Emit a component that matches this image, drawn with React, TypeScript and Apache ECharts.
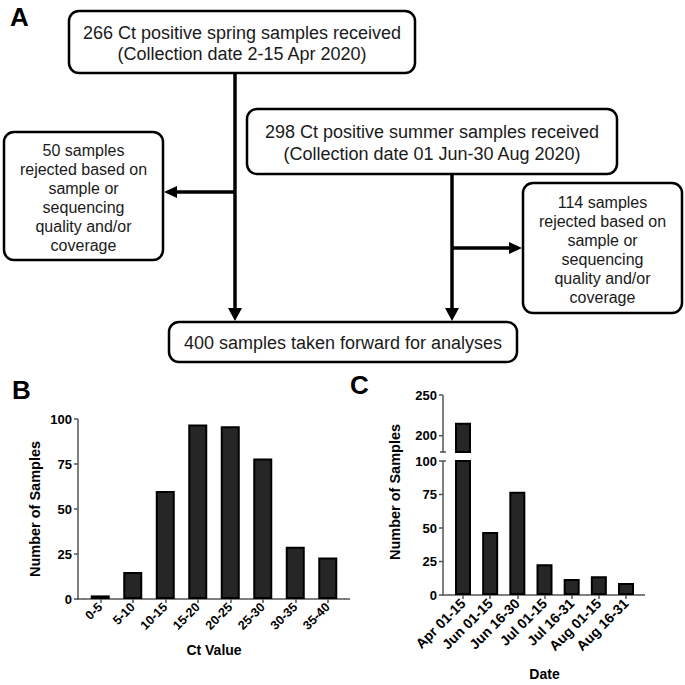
import React, { useEffect, useRef } from "react";
import * as echarts from "echarts";

// ---- Panel B data ----
const ctCategories = ["0-5", "5-10", "10-15", "15-20", "20-25", "25-30", "30-35", "35-40"];
const ctCounts = [2, 15, 60, 97, 96, 78, 29, 23];
const bTicks = [0, 25, 50, 75, 100];

// ---- Panel C data ----
const dateCategories = ["Apr 01-15", "Jun 01-15", "Jun 16-30", "Jul 01-15", "Jul 16-31", "Aug 01-15", "Aug 16-31"];
const dateCounts = [216, 47, 77, 23, 12, 14, 9];
const cLowerTicks = [0, 25, 50, 75, 100];
const cUpperTicks = [200, 250];
const cUpperBreak = 180;

// ---- Panel A texts ----
const springText = ["266 Ct positive spring samples received", "(Collection date 2-15 Apr 2020)"];
const summerText = ["298 Ct positive summer samples received", "(Collection date 01 Jun-30 Aug 2020)"];
const springRejectText = ["50 samples", "rejected based on", "sample or", "sequencing", "quality and/or", "coverage"];
const summerRejectText = ["114 samples", "rejected based on", "sample or", "sequencing", "quality and/or", "coverage"];
const finalText = ["400 samples taken forward for analyses"];

const FONT = "'Liberation Sans', Arial, Helvetica, sans-serif";
const AXIS_COLOR = "#555";
const AXIS_W = 1.5;

function box(x: number, y: number, w: number, h: number) {
  return {
    type: "rect",
    shape: { x, y, width: w, height: h, r: 10 },
    style: { fill: "#fff", stroke: "#000", lineWidth: 2.5 },
  };
}
function boxText(lines: string[], cx: number, cy: number, lh: number, size: number) {
  return {
    type: "text",
    x: cx,
    y: cy,
    style: {
      text: lines.join("\n"),
      font: `${size}px ${FONT}`,
      fill: "#1a1a1a",
      align: "center",
      verticalAlign: "middle",
      lineHeight: lh,
    },
  };
}
function line(x1: number, y1: number, x2: number, y2: number, w = 3.5, c = "#000") {
  return { type: "line", shape: { x1, y1, x2, y2 }, style: { stroke: c, lineWidth: w } };
}
function tri(points: number[][]) {
  return { type: "polygon", shape: { points }, style: { fill: "#000" } };
}
function panelLabel(t: string, x: number, y: number) {
  return {
    type: "text",
    x,
    y,
    style: { text: t, font: `bold 26px ${FONT}`, fill: "#000", align: "left", verticalAlign: "top" },
  };
}

const mkLine = () => ({ show: true, lineStyle: { color: AXIS_COLOR, width: AXIS_W } });
const mkTick = (extra: any = {}) => ({
  show: true,
  length: 4,
  lineStyle: { color: AXIS_COLOR, width: AXIS_W },
  ...extra,
});
const mkLabel = (extra: any = {}) => ({
  show: true,
  color: "#000",
  fontWeight: "bold",
  fontSize: 13,
  fontFamily: FONT,
  margin: 5,
  ...extra,
});

const B = { axisLeft: 78, axisRight: 350, bandLeft: 84, bandRight: 344, top: 419, bottom: 599 };
const C = { axisLeft: 443, axisRight: 645, bandLeft: 449.4, bandRight: 639.6, top: 461, bottom: 595, upTop: 395, upBottom: 452 };

export default function App() {
  const ref = useRef<HTMLDivElement>(null);
  useEffect(() => {
    if (!ref.current) return;
    const chart = echarts.init(ref.current, undefined, { renderer: "svg" });
    const barStyle = { color: "#262626", borderColor: "#000", borderWidth: 2 };

    const option: any = {
      animation: false,
      backgroundColor: "#fff",
      grid: [
        { left: B.bandLeft, top: B.top, width: B.bandRight - B.bandLeft, height: B.bottom - B.top },
        { left: C.bandLeft, top: C.top, width: C.bandRight - C.bandLeft, height: C.bottom - C.top },
        { left: C.bandLeft, top: C.upTop, width: C.bandRight - C.bandLeft, height: C.upBottom - C.upTop },
      ],
      xAxis: [
        {
          type: "category",
          gridIndex: 0,
          data: ctCategories,
          axisLine: mkLine(),
          axisTick: mkTick({ alignWithLabel: true }),
          axisLabel: mkLabel({ fontSize: 12.5, rotate: 45, margin: 6, interval: 0 }),
          name: "Ct Value",
          nameLocation: "middle",
          nameGap: 44,
          nameTextStyle: { color: "#000", fontWeight: "bold", fontSize: 14, fontFamily: FONT, verticalAlign: "top" },
        },
        {
          type: "category",
          gridIndex: 1,
          data: dateCategories,
          axisLine: mkLine(),
          axisTick: mkTick({ alignWithLabel: true }),
          axisLabel: mkLabel({ fontSize: 14, rotate: 45, margin: 6, interval: 0 }),
          name: "Date",
          nameLocation: "middle",
          nameGap: 72,
          nameTextStyle: { color: "#000", fontWeight: "bold", fontSize: 14, fontFamily: FONT, verticalAlign: "top" },
        },
        { type: "category", gridIndex: 2, data: dateCategories, show: false },
      ],
      yAxis: [
        {
          type: "value",
          gridIndex: 0,
          offset: B.bandLeft - B.axisLeft,
          min: 0,
          max: 100,
          interval: 25,
          axisLine: { show: false },
          axisTick: { show: false },
          axisLabel: mkLabel({ margin: 6 }),
          splitLine: { show: false },
          name: "Number of Samples",
          nameLocation: "middle",
          nameGap: 36,
          nameTextStyle: { color: "#000", fontWeight: "bold", fontSize: 14.5, fontFamily: FONT },
        },
        {
          type: "value",
          gridIndex: 1,
          offset: C.bandLeft - C.axisLeft,
          min: 0,
          max: 100,
          interval: 25,
          axisLine: { show: false },
          axisTick: { show: false },
          axisLabel: mkLabel({ margin: 6 }),
          splitLine: { show: false },
        },
        {
          type: "value",
          gridIndex: 2,
          offset: C.bandLeft - C.axisLeft,
          min: cUpperBreak,
          max: 250,
          axisLine: { show: false },
          axisTick: { show: false },
          axisLabel: mkLabel({ margin: 6, customValues: cUpperTicks }),
          splitLine: { show: false },
        },
      ],
      series: [
        { type: "bar", xAxisIndex: 0, yAxisIndex: 0, barWidth: 19, itemStyle: barStyle, data: ctCounts },
        { type: "bar", xAxisIndex: 1, yAxisIndex: 1, barWidth: 16, clip: true, itemStyle: barStyle, data: dateCounts },
        { type: "bar", xAxisIndex: 2, yAxisIndex: 2, barWidth: 16, clip: true, itemStyle: barStyle, data: dateCounts },
      ],
    };
    chart.setOption(option);

    // y-axis lines and ticks, positioned through the axes' own scales
    const yPx = (axisIndex: number, v: number) => chart.convertToPixel({ yAxisIndex: axisIndex } as any, v) as number;
    const axisParts: any[] = [];
    const addAxis = (axisIndex: number, x: number, lo: number, hi: number, ticks: number[]) => {
      axisParts.push(line(x, yPx(axisIndex, lo) + 0.75, x, yPx(axisIndex, hi), AXIS_W, AXIS_COLOR));
      ticks.forEach((t) => {
        const y = yPx(axisIndex, t);
        axisParts.push(line(x - 4, y, x, y, AXIS_W, AXIS_COLOR));
      });
    };
    addAxis(0, B.axisLeft, 0, 100, bTicks);
    addAxis(1, C.axisLeft, 0, 100, cLowerTicks);
    addAxis(2, C.axisLeft, cUpperBreak, 250, cUpperTicks);
    const yBreak = yPx(2, cUpperBreak);
    axisParts.push(line(C.axisLeft - 3, yBreak, C.axisLeft + 3, yBreak, AXIS_W, AXIS_COLOR));
    const y100 = yPx(1, 100);
    axisParts.push(line(C.axisLeft, y100, C.axisLeft + 3, y100, AXIS_W, AXIS_COLOR));

    chart.setOption({
      graphic: [
        panelLabel("A", 10, 4),
        panelLabel("B", 12, 377),
        panelLabel("C", 350, 372),
        {
          type: "text",
          x: 395,
          y: 492,
          rotation: Math.PI / 2,
          style: { text: "Number of Samples", font: `bold 14.5px ${FONT}`, fill: "#000", align: "center", verticalAlign: "middle" },
        },
        // x-axis line extensions beyond the category band
        line(B.axisLeft - 0.75, B.bottom, B.bandLeft, B.bottom, AXIS_W, AXIS_COLOR),
        line(B.bandRight, B.bottom, B.axisRight, B.bottom, AXIS_W, AXIS_COLOR),
        line(C.axisLeft - 0.75, C.bottom, C.bandLeft, C.bottom, AXIS_W, AXIS_COLOR),
        line(C.bandRight, C.bottom, C.axisRight, C.bottom, AXIS_W, AXIS_COLOR),
        ...axisParts,
        // flowchart connectors
        line(235, 73, 235, 310),
        tri([[228, 308], [242, 308], [235, 321]]),
        line(235, 192, 176, 192),
        tri([[177, 186], [177, 198], [164, 192]]),
        line(452, 174, 452, 310),
        tri([[445, 308], [459, 308], [452, 321]]),
        line(452, 248, 510, 248),
        tri([[509, 242], [509, 254], [522, 248]]),
        // flowchart boxes
        box(69, 11, 346, 62),
        boxText(springText, 242, 43.5, 21.5, 18),
        box(247, 109, 370, 65),
        boxText(summerText, 432, 143, 22, 18),
        box(4, 132, 159, 128),
        boxText(springRejectText, 83.5, 198, 19, 16),
        box(523, 183, 159, 130),
        boxText(summerRejectText, 602.5, 249.5, 19, 16),
        box(169, 322, 348, 40),
        boxText(finalText, 343, 343, 20, 18),
      ],
    });
    return () => chart.dispose();
  }, []);
  return <div ref={ref} style={{ position: "fixed", left: 0, top: 0, width: 685, height: 685, background: "#fff" }} />;
}
